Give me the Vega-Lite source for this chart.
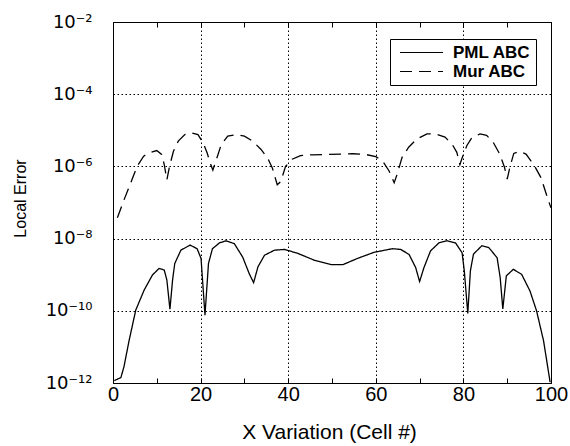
{
  "$schema": "https://vega.github.io/schema/vega-lite/v6.json",
  "width": 438,
  "height": 361,
  "autosize": {"type": "none"},
  "padding": {"left": 113, "top": 22, "right": 19, "bottom": 63},
  "background": "white",
  "config": {"view": {"stroke": "black", "strokeWidth": 1}, "font": "Liberation Sans"},
  "data": {"values": [
    {"x": 0.3, "y": 1.17e-12, "s": "PML ABC"},
    {"x": 1.8, "y": 1.41e-12, "s": "PML ABC"},
    {"x": 2.5, "y": 2.82e-12, "s": "PML ABC"},
    {"x": 3.7, "y": 1.55e-11, "s": "PML ABC"},
    {"x": 5.2, "y": 1.05e-10, "s": "PML ABC"},
    {"x": 7.1, "y": 3.72e-10, "s": "PML ABC"},
    {"x": 9.0, "y": 9.8e-10, "s": "PML ABC"},
    {"x": 10.5, "y": 1.48e-9, "s": "PML ABC"},
    {"x": 11.7, "y": 1.35e-9, "s": "PML ABC"},
    {"x": 12.3, "y": 7.1e-10, "s": "PML ABC"},
    {"x": 13.0, "y": 1.1e-10, "s": "PML ABC"},
    {"x": 13.6, "y": 7.1e-10, "s": "PML ABC"},
    {"x": 14.1, "y": 2.04e-9, "s": "PML ABC"},
    {"x": 15.5, "y": 4.79e-9, "s": "PML ABC"},
    {"x": 17.6, "y": 6.61e-9, "s": "PML ABC"},
    {"x": 19.2, "y": 5.25e-9, "s": "PML ABC"},
    {"x": 20.1, "y": 2.82e-9, "s": "PML ABC"},
    {"x": 21.0, "y": 7.6e-11, "s": "PML ABC"},
    {"x": 21.8, "y": 2.04e-9, "s": "PML ABC"},
    {"x": 22.7, "y": 5.25e-9, "s": "PML ABC"},
    {"x": 24.3, "y": 7.59e-9, "s": "PML ABC"},
    {"x": 25.8, "y": 8.71e-9, "s": "PML ABC"},
    {"x": 27.7, "y": 7.24e-9, "s": "PML ABC"},
    {"x": 29.6, "y": 3.09e-9, "s": "PML ABC"},
    {"x": 31.1, "y": 1.07e-9, "s": "PML ABC"},
    {"x": 32.1, "y": 6.0e-10, "s": "PML ABC"},
    {"x": 33.1, "y": 1.66e-9, "s": "PML ABC"},
    {"x": 34.6, "y": 3.47e-9, "s": "PML ABC"},
    {"x": 36.9, "y": 4.79e-9, "s": "PML ABC"},
    {"x": 39.2, "y": 5.01e-9, "s": "PML ABC"},
    {"x": 42.2, "y": 3.89e-9, "s": "PML ABC"},
    {"x": 46.0, "y": 2.51e-9, "s": "PML ABC"},
    {"x": 49.8, "y": 1.9e-9, "s": "PML ABC"},
    {"x": 52.5, "y": 1.9e-9, "s": "PML ABC"},
    {"x": 55.8, "y": 2.82e-9, "s": "PML ABC"},
    {"x": 59.6, "y": 4.17e-9, "s": "PML ABC"},
    {"x": 63.8, "y": 5.25e-9, "s": "PML ABC"},
    {"x": 65.7, "y": 5.01e-9, "s": "PML ABC"},
    {"x": 67.6, "y": 3.63e-9, "s": "PML ABC"},
    {"x": 69.1, "y": 1.58e-9, "s": "PML ABC"},
    {"x": 70.0, "y": 6.46e-10, "s": "PML ABC"},
    {"x": 71.0, "y": 1.58e-9, "s": "PML ABC"},
    {"x": 72.5, "y": 4.57e-9, "s": "PML ABC"},
    {"x": 74.4, "y": 7.59e-9, "s": "PML ABC"},
    {"x": 76.3, "y": 8.71e-9, "s": "PML ABC"},
    {"x": 78.2, "y": 7.59e-9, "s": "PML ABC"},
    {"x": 79.7, "y": 4.07e-9, "s": "PML ABC"},
    {"x": 80.2, "y": 1.29e-9, "s": "PML ABC"},
    {"x": 81.0, "y": 8.5e-11, "s": "PML ABC"},
    {"x": 81.6, "y": 1.29e-9, "s": "PML ABC"},
    {"x": 82.3, "y": 3.72e-9, "s": "PML ABC"},
    {"x": 84.2, "y": 6.31e-9, "s": "PML ABC"},
    {"x": 85.8, "y": 5.62e-9, "s": "PML ABC"},
    {"x": 87.7, "y": 2.95e-9, "s": "PML ABC"},
    {"x": 88.4, "y": 8.3e-10, "s": "PML ABC"},
    {"x": 89.0, "y": 1.12e-10, "s": "PML ABC"},
    {"x": 89.8, "y": 9.3e-10, "s": "PML ABC"},
    {"x": 91.4, "y": 1.41e-9, "s": "PML ABC"},
    {"x": 93.3, "y": 1.02e-9, "s": "PML ABC"},
    {"x": 95.2, "y": 3.55e-10, "s": "PML ABC"},
    {"x": 96.7, "y": 1.0e-10, "s": "PML ABC"},
    {"x": 98.3, "y": 1.48e-11, "s": "PML ABC"},
    {"x": 99.8, "y": 1.05e-12, "s": "PML ABC"},
    {"x": 1.0, "y": 3.8e-8, "s": "Mur ABC"},
    {"x": 2.5, "y": 1.17e-7, "s": "Mur ABC"},
    {"x": 4.0, "y": 3.39e-7, "s": "Mur ABC"},
    {"x": 5.5, "y": 1.0e-6, "s": "Mur ABC"},
    {"x": 7.0, "y": 1.91e-6, "s": "Mur ABC"},
    {"x": 8.1, "y": 2.34e-6, "s": "Mur ABC"},
    {"x": 10.0, "y": 2.75e-6, "s": "Mur ABC"},
    {"x": 11.1, "y": 2.14e-6, "s": "Mur ABC"},
    {"x": 11.7, "y": 1.12e-6, "s": "Mur ABC"},
    {"x": 12.3, "y": 4.27e-7, "s": "Mur ABC"},
    {"x": 12.9, "y": 1.0e-6, "s": "Mur ABC"},
    {"x": 13.8, "y": 2.63e-6, "s": "Mur ABC"},
    {"x": 14.9, "y": 5.01e-6, "s": "Mur ABC"},
    {"x": 16.4, "y": 7.59e-6, "s": "Mur ABC"},
    {"x": 17.9, "y": 8.51e-6, "s": "Mur ABC"},
    {"x": 19.4, "y": 7.59e-6, "s": "Mur ABC"},
    {"x": 20.6, "y": 4.47e-6, "s": "Mur ABC"},
    {"x": 21.5, "y": 2.34e-6, "s": "Mur ABC"},
    {"x": 22.2, "y": 1.23e-6, "s": "Mur ABC"},
    {"x": 22.8, "y": 7.9e-7, "s": "Mur ABC"},
    {"x": 23.6, "y": 1.55e-6, "s": "Mur ABC"},
    {"x": 24.7, "y": 3.98e-6, "s": "Mur ABC"},
    {"x": 26.2, "y": 6.92e-6, "s": "Mur ABC"},
    {"x": 28.1, "y": 7.59e-6, "s": "Mur ABC"},
    {"x": 30.0, "y": 6.92e-6, "s": "Mur ABC"},
    {"x": 31.9, "y": 5.01e-6, "s": "Mur ABC"},
    {"x": 33.8, "y": 2.95e-6, "s": "Mur ABC"},
    {"x": 35.3, "y": 1.7e-6, "s": "Mur ABC"},
    {"x": 36.4, "y": 8.9e-7, "s": "Mur ABC"},
    {"x": 37.5, "y": 3.09e-7, "s": "Mur ABC"},
    {"x": 38.3, "y": 3.8e-7, "s": "Mur ABC"},
    {"x": 39.4, "y": 1.0e-6, "s": "Mur ABC"},
    {"x": 40.9, "y": 1.58e-6, "s": "Mur ABC"},
    {"x": 42.8, "y": 2.0e-6, "s": "Mur ABC"},
    {"x": 45.5, "y": 2.09e-6, "s": "Mur ABC"},
    {"x": 49.2, "y": 2.14e-6, "s": "Mur ABC"},
    {"x": 54.7, "y": 2.24e-6, "s": "Mur ABC"},
    {"x": 57.7, "y": 2.14e-6, "s": "Mur ABC"},
    {"x": 60.0, "y": 1.86e-6, "s": "Mur ABC"},
    {"x": 61.5, "y": 1.45e-6, "s": "Mur ABC"},
    {"x": 63.0, "y": 7.6e-7, "s": "Mur ABC"},
    {"x": 64.2, "y": 3.55e-7, "s": "Mur ABC"},
    {"x": 64.9, "y": 6.2e-7, "s": "Mur ABC"},
    {"x": 66.0, "y": 1.78e-6, "s": "Mur ABC"},
    {"x": 67.5, "y": 3.39e-6, "s": "Mur ABC"},
    {"x": 69.4, "y": 5.75e-6, "s": "Mur ABC"},
    {"x": 71.7, "y": 7.94e-6, "s": "Mur ABC"},
    {"x": 73.6, "y": 7.94e-6, "s": "Mur ABC"},
    {"x": 75.8, "y": 6.46e-6, "s": "Mur ABC"},
    {"x": 77.4, "y": 4.17e-6, "s": "Mur ABC"},
    {"x": 78.5, "y": 2.45e-6, "s": "Mur ABC"},
    {"x": 79.2, "y": 1.12e-6, "s": "Mur ABC"},
    {"x": 79.6, "y": 1.58e-6, "s": "Mur ABC"},
    {"x": 80.8, "y": 3.8e-6, "s": "Mur ABC"},
    {"x": 81.9, "y": 6.17e-6, "s": "Mur ABC"},
    {"x": 83.8, "y": 7.94e-6, "s": "Mur ABC"},
    {"x": 85.3, "y": 7.24e-6, "s": "Mur ABC"},
    {"x": 86.8, "y": 4.68e-6, "s": "Mur ABC"},
    {"x": 88.3, "y": 2.19e-6, "s": "Mur ABC"},
    {"x": 89.4, "y": 9.3e-7, "s": "Mur ABC"},
    {"x": 90.0, "y": 4.47e-7, "s": "Mur ABC"},
    {"x": 90.6, "y": 9.3e-7, "s": "Mur ABC"},
    {"x": 91.5, "y": 2.29e-6, "s": "Mur ABC"},
    {"x": 92.8, "y": 2.63e-6, "s": "Mur ABC"},
    {"x": 94.3, "y": 2.19e-6, "s": "Mur ABC"},
    {"x": 96.2, "y": 1.05e-6, "s": "Mur ABC"},
    {"x": 97.7, "y": 4.9e-7, "s": "Mur ABC"},
    {"x": 99.2, "y": 1.35e-7, "s": "Mur ABC"},
    {"x": 100.0, "y": 7.1e-8, "s": "Mur ABC"}
  ]},
  "encoding": {
    "y": {
      "field": "y", "type": "quantitative",
      "scale": {"type": "log", "domain": [1e-12, 1e-2], "nice": false},
      "axis": {
        "values": [1e-12, 1e-10, 1e-8, 1e-6, 1e-4, 1e-2],
        "labelExpr": "'10' + (round(log(datum.value)/LN10) == -2 ? '⁻²' : round(log(datum.value)/LN10) == -4 ? '⁻⁴' : round(log(datum.value)/LN10) == -6 ? '⁻⁶' : round(log(datum.value)/LN10) == -8 ? '⁻⁸' : round(log(datum.value)/LN10) == -10 ? '⁻¹⁰' : '⁻¹²')",
        "grid": true,
        "gridColor": "black",
        "gridDash": [1.5, 2.5],
        "gridWidth": 1,
        "ticks": false,
        "tickSize": 0,
        "domain": false,
        "labelFlush": false,
        "labelOverlap": false,
        "labelFont": "DejaVu Sans",
        "labelFontSize": 18,
        "labelColor": "black",
        "labelPadding": 21,
        "title": "Local Error",
        "titleFontSize": 16,
        "titleFontWeight": "normal",
        "titleColor": "black",
        "titleX": -93,
        "titleY": 176,
        "titleAngle": -90,
        "titleAlign": "center",
        "titleBaseline": "middle"
      }
    }
  },
  "layer": [
    {
      "mark": {"type": "line", "color": "black", "strokeWidth": 1.3, "clip": true},
      "encoding": {
        "x": {
          "field": "x", "type": "quantitative",
          "scale": {"domain": [0, 100], "nice": false},
          "axis": {
            "values": [0, 20, 40, 60, 80, 100],
            "grid": true,
            "gridColor": "black",
            "gridDash": [1.5, 2.5],
            "gridWidth": 1,
            "ticks": false,
            "tickSize": 0,
            "domain": false,
            "labelFlush": false,
            "labelOverlap": false,
            "labelFontSize": 20,
            "labelColor": "black",
            "labelPadding": 1,
            "title": "X Variation (Cell #)",
            "titleFontSize": 21,
            "titleFontWeight": "normal",
            "titleColor": "black",
            "titleX": 216,
            "titleY": 49,
            "titleAlign": "center",
            "titleBaseline": "middle"
          }
        },
        "strokeDash": {
          "field": "s", "type": "nominal",
          "scale": {"domain": ["PML ABC", "Mur ABC"], "range": [[1, 0], [12, 7]]},
          "legend": {
            "orient": "none",
            "legendX": 277,
            "legendY": 17,
            "title": null,
            "symbolType": "stroke",
            "symbolSize": 1849,
            "symbolStrokeWidth": 1.2,
            "symbolStrokeColor": "black",
            "symbolOffset": 4,
            "clipHeight": 17,
            "labelFontSize": 17,
            "labelFontWeight": "bold",
            "labelColor": "black",
            "labelOffset": 9,
            "strokeColor": "black",
            "fillColor": "white",
            "padding": 5,
            "rowPadding": 1
          }
        }
      }
    },
    {
      "mark": {"type": "line", "opacity": 0},
      "encoding": {
        "x": {
          "field": "x", "type": "quantitative",
          "axis": {
            "orient": "top",
            "offset": -5,
            "values": [0, 10, 20, 30, 40, 50, 60, 70, 80, 90, 100],
            "labels": false,
            "grid": false,
            "domain": false,
            "ticks": true,
            "tickSize": 5,
            "tickColor": "black",
            "title": null
          }
        },
        "detail": {"field": "s", "type": "nominal"}
      }
    },
    {
      "mark": {"type": "line", "opacity": 0},
      "encoding": {
        "x": {
          "field": "x", "type": "quantitative",
          "axis": {
            "orient": "bottom",
            "offset": -5,
            "values": [0, 10, 20, 30, 40, 50, 60, 70, 80, 90, 100],
            "labels": false,
            "grid": false,
            "domain": false,
            "ticks": true,
            "tickSize": 5,
            "tickColor": "black",
            "title": null
          }
        },
        "detail": {"field": "s", "type": "nominal"}
      }
    }
  ],
  "resolve": {"axis": {"x": "independent"}}
}
